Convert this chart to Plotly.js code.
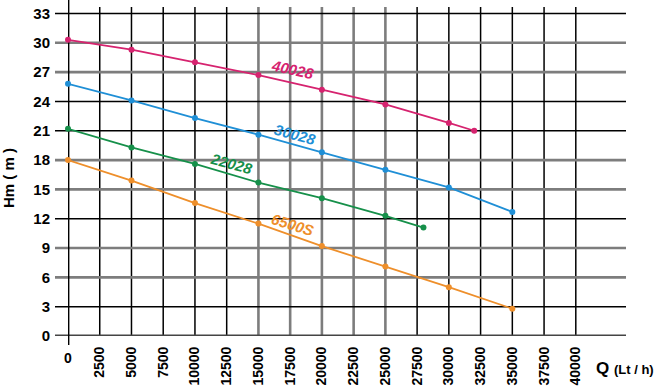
<!DOCTYPE html>
<html>
<head>
<meta charset="utf-8">
<script src="https://cdn.plot.ly/plotly-3.0.1.min.js"></script>
<style>html,body{margin:0;padding:0;background:#fff;}#chart{width:657px;height:388px;}</style>
</head>
<body>
<div id="chart"></div>
<script>
// ---- data ----
const seriesNames = ["40028", "30028", "22028", "6500S"];
const q40028 = [0, 5000, 10000, 15000, 20000, 25000, 30000, 32000];
const h40028 = [30.3, 29.3, 28.0, 26.7, 25.2, 23.7, 21.8, 21.0];
const q30028 = [0, 5000, 10000, 15000, 20000, 25000, 30000, 35000];
const h30028 = [25.8, 24.1, 22.3, 20.6, 18.8, 17.0, 15.2, 12.7];
const q22028 = [0, 5000, 10000, 15000, 20000, 25000, 28000];
const h22028 = [21.2, 19.3, 17.6, 15.7, 14.1, 12.3, 11.1];
const q6500S = [0, 5000, 10000, 15000, 20000, 25000, 30000, 35000];
const h6500S = [18.0, 15.9, 13.6, 11.5, 9.2, 7.1, 5.0, 2.8];
const xTickVals = [0, 2500, 5000, 7500, 10000, 12500, 15000, 17500, 20000, 22500, 25000, 27500, 30000, 32500, 35000, 37500, 40000];
const yTickVals = [0, 3, 6, 9, 12, 15, 18, 21, 24, 27, 30, 33];
const grayXTicks = [15000, 17500, 20000, 22500, 25000];
const grayYTicks = [6, 9, 15, 18, 27, 30];
const xTitle = "Q";
const xTitleUnit = "(Lt / h)";
const yTitle = "Hm ( m )";

// ---- styles ----
const colors = ["#d6236f", "#1f8fd6", "#16904a", "#ee8f2b"];
const FAM = "Liberation Sans, Arial, sans-serif";
const W = 657, H = 388;
const M = {l: 68, r: 31, t: 0, b: 52};
const PW = W - M.l - M.r, PH = H - M.t - M.b;

const xs = [q40028, q30028, q22028, q6500S];
const ys = [h40028, h30028, h22028, h6500S];
const traces = xs.map((x, i) => ({
  type: "scatter", mode: "lines+markers", x: x, y: ys[i], name: seriesNames[i],
  line: {color: colors[i], width: 1.8},
  marker: {color: colors[i], size: 6},
  hoverinfo: "skip", cliponaxis: false
}));

const shapes = [];
// vertical grid lines
xTickVals.filter(v => v > 0).forEach(v => {
  const gray = grayXTicks.includes(v);
  shapes.push({type: "line", layer: "below", xref: "x", yref: "paper",
    x0: v, x1: v, y0: 0, y1: (PH - 7) / PH,
    line: {color: gray ? "#7d7d7d" : "#000", width: gray ? 2.6 : 1.5}});
});
// horizontal grid lines (extend past y axis like ticks)
yTickVals.filter(v => v > 0).forEach(v => {
  const gray = grayYTicks.includes(v);
  shapes.push({type: "line", layer: "below", xref: "paper", yref: "y",
    x0: -13 / PW, x1: 1, y0: v, y1: v,
    line: {color: gray ? "#7d7d7d" : "#000", width: gray ? 2.6 : 1.5}});
});
// x axis line
shapes.push({type: "line", layer: "below", xref: "paper", yref: "y",
  x0: -13 / PW, x1: 1, y0: 0, y1: 0, line: {color: "#444", width: 2.8}});
// y axis line
shapes.push({type: "line", layer: "below", xref: "x", yref: "paper",
  x0: 0, x1: 0, y0: -9 / PH, y1: 1, line: {color: "#000", width: 2.8}});

const labelPos = [
  {x: 17700, y: 27.3, a: 12},
  {x: 17900, y: 20.6, a: 15},
  {x: 12850, y: 17.7, a: 15},
  {x: 17650, y: 11.45, a: 17}
];
const annotations = labelPos.map((p, i) => ({
  text: seriesNames[i], x: p.x, y: p.y, xref: "x", yref: "y",
  showarrow: false, textangle: p.a, xanchor: "center", yanchor: "middle",
  font: {family: FAM, size: 15, color: colors[i], weight: "bold", style: "italic"}
}));
annotations.push({text: "0", x: 0, xref: "x", yref: "paper", y: (PH - 358) / PH,
  showarrow: false, xanchor: "center", yanchor: "middle",
  font: {family: FAM, size: 14, color: "#000", weight: "bold"}});
annotations.push({text: yTitle, xref: "paper", yref: "paper",
  x: (8 - M.l) / PW, y: (PH - 178) / PH, showarrow: false, textangle: -90,
  xanchor: "center", yanchor: "middle",
  font: {family: FAM, size: 15, color: "#000", weight: "bold"}});
annotations.push({text: "<b>" + xTitle + "</b> <span style='font-size:13px'><b>" + xTitleUnit + "</b></span>",
  xref: "paper", yref: "paper", x: (656 - M.l) / PW, y: (PH - 368) / PH,
  showarrow: false, xanchor: "right", yanchor: "middle",
  font: {family: FAM, size: 17, color: "#000"}});

const layout = {
  width: W, height: H, margin: M,
  paper_bgcolor: "#fff", plot_bgcolor: "#fff",
  showlegend: false,
  xaxis: {
    range: [0, 43954], tickmode: "array", tickvals: xTickVals,
    ticktext: xTickVals.map(v => v === 0 ? "" : String(v)),
    tickangle: -90, ticks: "outside", ticklen: 4, tickcolor: "rgba(0,0,0,0)",
    tickfont: {family: FAM, size: 14, color: "#000", weight: "bold"},
    showgrid: false, zeroline: false, showline: false, fixedrange: true
  },
  yaxis: {
    range: [0, 34.38], tickmode: "array", tickvals: yTickVals,
    ticktext: yTickVals.map(String),
    ticks: "outside", ticklen: 14, tickcolor: "rgba(0,0,0,0)",
    tickfont: {family: FAM, size: 15, color: "#000", weight: "bold"},
    showgrid: false, zeroline: false, showline: false, fixedrange: true
  },
  shapes: shapes,
  annotations: annotations
};

Plotly.newPlot("chart", traces, layout, {displayModeBar: false, staticPlot: true});
</script>
</body>
</html>
